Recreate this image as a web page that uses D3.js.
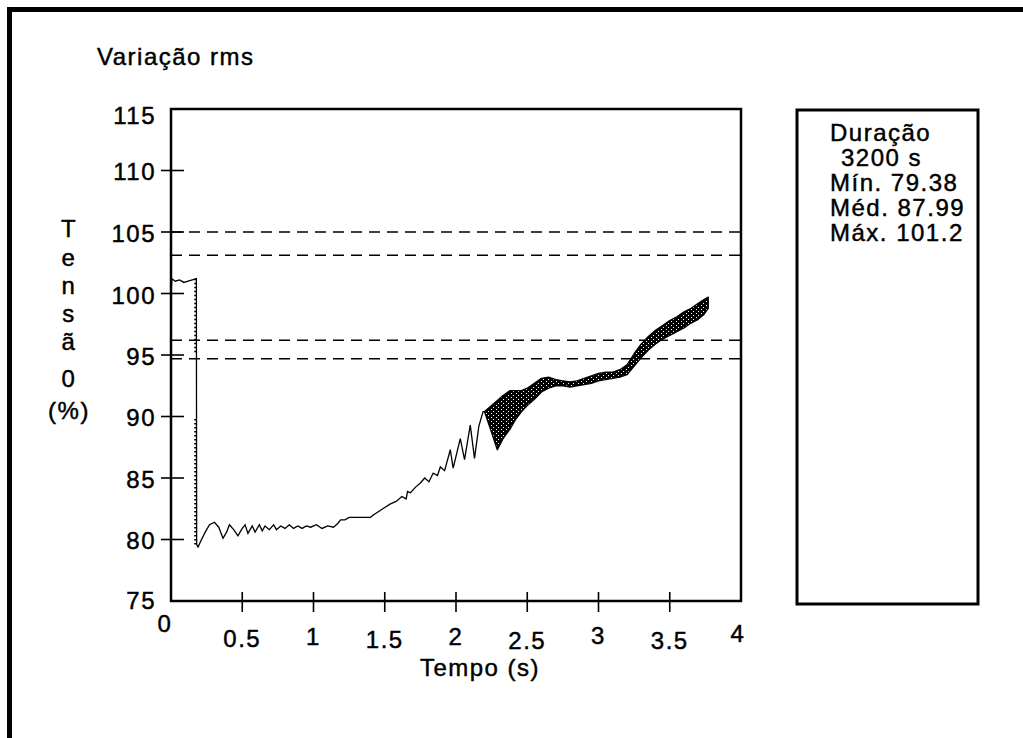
<!DOCTYPE html>
<html>
<head>
<meta charset="utf-8">
<script src="https://cdn.jsdelivr.net/npm/d3@7"></script>
<style>
  html, body { margin: 0; padding: 0; background: #fff; }
  svg { display: block; }
  text { font-family: "Liberation Sans", Arial, sans-serif; font-size: 24px; letter-spacing: 1.5px;
         fill: #000; stroke: #000; stroke-width: 0.45px; }
</style>
</head>
<body>
<svg id="chart" width="1023" height="738"></svg>
<script>
// ---- data ----
const xTicks = [0, 0.5, 1, 1.5, 2, 2.5, 3, 3.5, 4];
const yTicks = [75, 80, 85, 90, 95, 100, 105, 110, 115];
const limitLines = [105, 103.1, 96.2, 94.7];

// rms trace until the oscillation envelope opens up
const traceTime = [
  0.000, 0.006, 0.030, 0.060, 0.090, 0.120, 0.150, 0.178, 0.180, 0.190,
  0.210, 0.240, 0.270, 0.305, 0.335, 0.365, 0.390, 0.410, 0.440, 0.470,
  0.500, 0.520, 0.540, 0.570, 0.590, 0.620, 0.640, 0.660, 0.690, 0.720,
  0.740, 0.770, 0.800, 0.830, 0.860, 0.890, 0.920, 0.950, 0.980, 1.020,
  1.060, 1.100, 1.140, 1.170, 1.190, 1.220, 1.250, 1.300, 1.400, 1.420,
  1.460, 1.500, 1.540, 1.580, 1.620, 1.650, 1.660, 1.680, 1.720, 1.750,
  1.780, 1.810, 1.840, 1.870, 1.890, 1.920, 1.960, 1.980, 2.030, 2.060,
  2.100, 2.130, 2.160, 2.190, 2.200
];
const traceValue = [
  99.9, 101.2, 101.0, 101.1, 100.9, 101.0, 101.1, 101.2, 79.6, 79.38,
  79.9, 80.6, 81.2, 81.4, 81.0, 80.1, 80.6, 81.2, 80.8, 80.3,
  80.9, 81.2, 80.5, 81.1, 80.6, 81.2, 80.7, 81.1, 80.8, 81.2,
  80.8, 81.1, 80.9, 81.2, 80.9, 81.1, 80.9, 81.1, 81.0, 81.2,
  80.9, 81.1, 81.0, 81.3, 81.6, 81.6, 81.8, 81.8, 81.8, 82.0,
  82.3, 82.6, 82.9, 83.1, 83.5, 83.3, 83.9, 83.8, 84.3, 84.6,
  85.0, 84.7, 85.4, 85.2, 85.9, 85.6, 87.3, 85.8, 88.2, 86.5,
  89.3, 86.6, 89.2, 90.4, 90.4
];

// second (dotted) trace along the voltage drop
const dropTime  = [0.170, 0.170, 0.170, 0.170, 0.170];
const dropValue = [101.2, 95.2, null, 89.8, 79.6];

// envelope of the oscillating recovery
const bandTime = [
  2.20, 2.25, 2.29, 2.33, 2.38, 2.42, 2.46, 2.50, 2.55, 2.60,
  2.65, 2.70, 2.75, 2.80, 2.85, 2.90, 2.95, 3.00, 3.05, 3.10,
  3.15, 3.20, 3.25, 3.30, 3.35, 3.40, 3.45, 3.50, 3.55, 3.60,
  3.65, 3.70, 3.74, 3.77
];
const bandUpper = [
  90.4, 90.9, 91.3, 91.7, 92.1, 92.1, 92.1, 92.3, 92.7, 93.1,
  93.2, 93.0, 92.9, 92.8, 92.9, 93.1, 93.3, 93.5, 93.6, 93.6,
  93.8, 94.2, 95.1, 95.9, 96.5, 97.0, 97.4, 97.8, 98.1, 98.5,
  98.8, 99.2, 99.5, 99.7
];
const bandLower = [
  90.4, 88.7, 87.3, 88.2, 89.0, 89.8, 90.4, 90.9, 91.4, 92.0,
  92.3, 92.5, 92.5, 92.4, 92.5, 92.6, 92.7, 92.9, 93.0, 93.1,
  93.2, 93.4, 94.1, 94.8, 95.4, 95.9, 96.3, 96.6, 96.9, 97.2,
  97.6, 97.9, 98.3, 98.8
];

const titleText = "Variação rms";
const xTitle = "Tempo (s)";
const yTitleChars = ["T", "e", "n", "s", "ã", "0", "(%)"];
const durationLabel = "Duração";
const durationValue = "3200 s";
const statNames = ["Mín.", "Méd.", "Máx."];
const statValues = [79.38, 87.99, 101.2];

// ---- layout ----
const svg = d3.select("#chart");
const plot = { left: 171, right: 741, top: 109, bottom: 601 };
const x = d3.scaleLinear().domain([0, 4]).range([plot.left, plot.right]);
const y = d3.scaleLinear().domain([75, 115]).range([plot.bottom, plot.top]);

// label nudges of the original plotting program
const xLabelDx = [-6, 0, 0, 0, 0, 0, 0, 0, -3];
const xLabelDy = [-14, 1, -1, 2, -1, 3, -2, 3, -4];
const yLabelDy = [-1, 1, 1, 1, 1, 2, 1, 1, 6];

// outer frame (top and left edges)
svg.append("path")
  .attr("d", "M9.5,738 V9.5 H1023")
  .attr("fill", "none").attr("stroke", "#000").attr("stroke-width", 5);

// title
svg.append("text").attr("x", 97).attr("y", 65).text(titleText);

// pattern for the envelope fill
const defs = svg.append("defs");
const pat = defs.append("pattern").attr("id", "hatch")
  .attr("patternUnits", "userSpaceOnUse").attr("width", 5).attr("height", 4);
pat.append("rect").attr("width", 5).attr("height", 4).attr("fill", "#000");
pat.append("rect").attr("x", 1).attr("y", 1).attr("width", 1).attr("height", 1).attr("fill", "#fff");
pat.append("rect").attr("x", 3).attr("y", 3).attr("width", 1).attr("height", 1).attr("fill", "#fff");

// limit lines
svg.append("g").selectAll("line").data(limitLines).join("line")
  .attr("x1", plot.left).attr("x2", plot.right)
  .attr("y1", d => y(d)).attr("y2", d => y(d))
  .attr("stroke", "#000").attr("stroke-width", 1.5)
  .attr("stroke-dasharray", "11,7");

// envelope band
const band = bandTime.map((t, i) => ({ t, hi: bandUpper[i], lo: bandLower[i] }));
svg.append("path").datum(band)
  .attr("d", d3.area().x(d => x(d.t)).y0(d => y(d.lo)).y1(d => y(d.hi)))
  .attr("fill", "url(#hatch)").attr("stroke", "#000").attr("stroke-width", 1.4)
  .attr("stroke-linejoin", "round");

// main trace
const trace = traceTime.map((t, i) => ({ t, v: traceValue[i] }));
svg.append("path").datum(trace)
  .attr("d", d3.line().x(d => x(d.t)).y(d => y(d.v)))
  .attr("fill", "none").attr("stroke", "#000").attr("stroke-width", 1.3);

// dotted trace on the drop
const drop = dropTime.map((t, i) => ({ t, v: dropValue[i] }));
svg.append("path").datum(drop)
  .attr("d", d3.line().defined(d => d.v !== null).x(d => x(d.t)).y(d => y(d.v)))
  .attr("fill", "none").attr("stroke", "#000").attr("stroke-width", 2)
  .attr("stroke-dasharray", "1.5,2.5");

// plot frame
svg.append("rect")
  .attr("x", plot.left).attr("y", plot.top)
  .attr("width", plot.right - plot.left).attr("height", plot.bottom - plot.top)
  .attr("fill", "none").attr("stroke", "#000").attr("stroke-width", 2.5);

// y ticks crossing the axis
svg.append("g").selectAll("line").data(yTicks.filter(d => d > 75 && d < 115)).join("line")
  .attr("x1", plot.left - 10).attr("x2", plot.left + 13)
  .attr("y1", d => y(d)).attr("y2", d => y(d))
  .attr("stroke", "#000").attr("stroke-width", 1.6);

svg.append("g").selectAll("text").data(yTicks).join("text")
  .attr("x", 156).attr("y", (d, i) => y(d) + yLabelDy[i])
  .attr("dy", "0.36em").attr("text-anchor", "end")
  .text(d => d);

// x ticks crossing the axis
svg.append("g").selectAll("line").data(xTicks.filter(d => d > 0 && d < 4)).join("line")
  .attr("x1", d => x(d)).attr("x2", d => x(d))
  .attr("y1", plot.bottom - 9).attr("y2", plot.bottom + 11)
  .attr("stroke", "#000").attr("stroke-width", 1.6);

svg.append("g").selectAll("text").data(xTicks).join("text")
  .attr("x", (d, i) => x(d) + xLabelDx[i])
  .attr("y", (d, i) => 637 + xLabelDy[i])
  .attr("dy", "0.36em").attr("text-anchor", "middle")
  .text(d => d);

svg.append("text").attr("x", 480).attr("y", 667).attr("dy", "0.36em")
  .attr("text-anchor", "middle").text(xTitle);

// vertical axis title, one character per row
const yTitleY = [228, 257, 285, 313, 341, 378, 410];
svg.append("g").selectAll("text").data(yTitleChars).join("text")
  .attr("x", 69).attr("y", (d, i) => yTitleY[i]).attr("dy", "0.36em")
  .attr("text-anchor", "middle").text(d => d);

// statistics box
svg.append("rect")
  .attr("x", 797).attr("y", 110).attr("width", 181).attr("height", 494)
  .attr("fill", "none").attr("stroke", "#000").attr("stroke-width", 3);

const legendLines = [durationLabel, " " + durationValue]
  .concat(statNames.map((n, i) => n + " " + statValues[i]));
const legendBase = [141, 166, 191, 216, 241];
svg.append("g").selectAll("text").data(legendLines).join("text")
  .attr("x", (d, i) => i === 1 ? 841 : 830)
  .attr("y", (d, i) => legendBase[i])
  .text(d => d.trim());
</script>
</body>
</html>
